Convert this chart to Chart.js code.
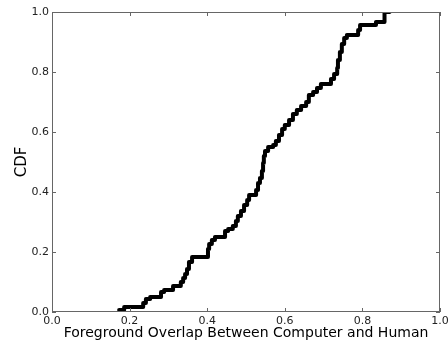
<!DOCTYPE html>
<html>
  <head>
    <meta charset="utf-8">
    <title>CDF</title>
    <script src="https://cdn.jsdelivr.net/npm/chart.js@4/dist/chart.umd.min.js"></script>
    <style>
      html, body { margin: 0; padding: 0; background: #fff; }
      #wrap { width: 448px; height: 343px; position: relative; }
    </style>
  </head>
  <body>
    <div id="wrap"><canvas id="chart1"></canvas></div>
    <script>
      // step points of the CDF (top of each jump)
      var overlap = [0.173, 0.186, 0.235, 0.242, 0.253, 0.281, 0.289, 0.312, 0.332, 0.338,
                     0.343, 0.348, 0.353, 0.361, 0.402, 0.405, 0.412, 0.420, 0.446, 0.454,
                     0.466, 0.474, 0.479, 0.487, 0.495, 0.503, 0.508, 0.526, 0.531, 0.536,
                     0.541, 0.544, 0.546, 0.549, 0.557, 0.570, 0.577, 0.585, 0.593, 0.600,
                     0.611, 0.621, 0.631, 0.642, 0.655, 0.662, 0.673, 0.683, 0.693, 0.719,
                     0.727, 0.735, 0.737, 0.742, 0.747, 0.753, 0.760, 0.789, 0.794, 0.835,
                     0.857, 0.870];
      var cdf = [0.007, 0.017, 0.030, 0.043, 0.050, 0.067, 0.073, 0.087, 0.100, 0.113,
                 0.127, 0.143, 0.167, 0.183, 0.210, 0.227, 0.240, 0.250, 0.270, 0.277,
                 0.287, 0.303, 0.320, 0.337, 0.357, 0.373, 0.390, 0.407, 0.430, 0.447,
                 0.470, 0.497, 0.520, 0.537, 0.550, 0.557, 0.570, 0.590, 0.610, 0.623,
                 0.640, 0.660, 0.673, 0.687, 0.700, 0.723, 0.733, 0.747, 0.760, 0.777,
                 0.793, 0.813, 0.840, 0.867, 0.893, 0.913, 0.923, 0.940, 0.957, 0.967,
                 1.000, 1.000];
      var xTitle = 'Foreground Overlap Between Computer and Human';
      var yTitle = 'CDF';

      var pts = [];
      for (var i = 0; i < overlap.length; i++) pts.push({x: overlap[i], y: cdf[i]});

      // matplotlib-like frame with inward ticks
      var framePlugin = {
        id: 'frame',
        afterDraw: function(chart) {
          var ctx = chart.ctx, a = chart.chartArea;
          var sx = chart.scales.x, sy = chart.scales.y, len = 4;
          ctx.save();
          ctx.strokeStyle = '#666';
          ctx.lineWidth = 1;
          ctx.strokeRect(a.left + 0.5, a.top + 0.5, a.right - a.left - 1, a.bottom - a.top - 1);
          ctx.beginPath();
          sx.ticks.forEach(function(t) {
            var px = Math.round(sx.getPixelForValue(t.value)) + 0.5;
            ctx.moveTo(px, a.bottom); ctx.lineTo(px, a.bottom - len);
            ctx.moveTo(px, a.top); ctx.lineTo(px, a.top + len);
          });
          sy.ticks.forEach(function(t) {
            var py = Math.round(sy.getPixelForValue(t.value)) + 0.5;
            ctx.moveTo(a.left, py); ctx.lineTo(a.left + len, py);
            ctx.moveTo(a.right, py); ctx.lineTo(a.right - len, py);
          });
          ctx.stroke();
          ctx.restore();
        }
      };

      var tickFont = {family: 'DejaVu Sans', size: 11};
      var fmt = function(v) { return Number(v).toFixed(1); };

      new Chart(document.getElementById('chart1').getContext('2d'), {
        type: 'scatter',
        data: {
          datasets: [{
            data: pts,
            showLine: true,
            stepped: 'before',
            borderColor: '#000',
            backgroundColor: '#000',
            borderWidth: 4,
            borderJoinStyle: 'round',
            borderCapStyle: 'round',
            pointRadius: 0,
            fill: false
          }]
        },
        options: {
          responsive: true,
          maintainAspectRatio: false,
          animation: false,
          layout: {padding: {left: 0, right: 8, top: 12, bottom: 0}},
          plugins: {legend: {display: false}, tooltip: {enabled: false}},
          scales: {
            x: {
              type: 'linear', min: 0, max: 1,
              grid: {display: false, drawTicks: false},
              border: {display: false},
              ticks: {stepSize: 0.2, padding: 3, color: '#222', font: tickFont, callback: fmt, maxRotation: 0},
              title: {display: true, text: xTitle, color: '#000',
                      font: {family: 'DejaVu Sans', size: 14}, padding: {top: 0, bottom: 1}},
              afterFit: function(s) { s.height = 31; s.paddingLeft = 0; s.paddingRight = 0; }
            },
            y: {
              type: 'linear', min: 0, max: 1,
              grid: {display: false, drawTicks: false},
              border: {display: false},
              ticks: {stepSize: 0.2, padding: 3, color: '#222', font: tickFont, callback: fmt},
              title: {display: true, text: yTitle, color: '#000',
                      font: {family: 'DejaVu Sans', size: 15}, padding: {top: 13, bottom: 0}},
              afterFit: function(s) { s.width = 52; s.paddingTop = 0; s.paddingBottom = 0; }
            }
          }
        },
        plugins: [framePlugin]
      });
    </script>
  </body>
</html>
